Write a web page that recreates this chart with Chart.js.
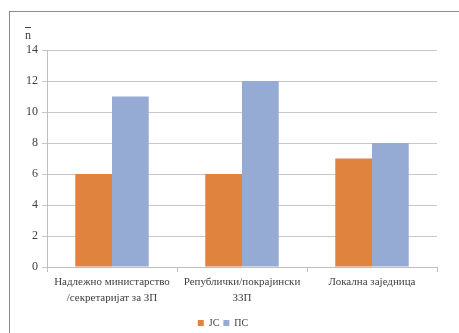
<!DOCTYPE html>
<html>
<head>
<meta charset="utf-8">
<script src="https://cdn.jsdelivr.net/npm/chart.js@4.4.0/dist/chart.umd.min.js"></script>
<style>
  html, body { margin: 0; padding: 0; background: #fff; }
  #wrap { position: relative; width: 459px; height: 333px; }
  #frame { position: absolute; left: 9px; top: 11px; width: 460px; height: 330px;
           border-left: 1px solid #8c8c8c; border-top: 1px solid #8c8c8c; pointer-events: none; }
</style>
</head>
<body>
<div id="wrap">
  <canvas id="chart" width="459" height="333"></canvas>
  <div id="frame"></div>
</div>
<script>
// Категорије и вредности
const categories = [
  ["Надлежно министарство", "/секретаријат за ЗП"],
  ["Републички/покрајински", "ЗЗП"],
  "Локална заједница"
];
const jsValues = [6, 6, 7];
const psValues = [11, 12, 8];
const yTicks = [0, 2, 4, 6, 8, 10, 12, 14];

const serif = "'Liberation Serif', 'Times New Roman', serif";

// наслов y осе (n са цртом) изнад осе
const yTitle = {
  id: "yTitle",
  afterDraw(chart) {
    const ctx = chart.ctx;
    const x = 28, y = 36;
    ctx.save();
    ctx.fillStyle = "#404040";
    ctx.font = "12px " + serif;
    ctx.textAlign = "center";
    ctx.fillText("n", x, y);
    ctx.strokeStyle = "#404040";
    ctx.lineWidth = 1;
    ctx.beginPath();
    ctx.moveTo(x - 3, 27.5);
    ctx.lineTo(x + 3, 27.5);
    ctx.stroke();
    ctx.restore();
  }
};

new Chart(document.getElementById("chart"), {
  type: "bar",
  data: {
    labels: categories,
    datasets: [
      { label: "JC", data: jsValues, backgroundColor: "#df833f" },
      { label: "ПС", data: psValues, backgroundColor: "#95abd4" }
    ]
  },
  options: {
    responsive: false,
    animation: false,
    layout: { padding: { left: 9, right: 22, top: 50, bottom: -5 } },
    datasets: { bar: { categoryPercentage: 0.565, barPercentage: 1.0 } },
    plugins: {
      tooltip: { enabled: false },
      legend: {
        position: "bottom",
        labels: {
          font: { family: serif, size: 10 },
          color: "#404040",
          boxWidth: 6,
          boxHeight: 6,
          padding: 4
        }
      }
    },
    scales: {
      x: {
        afterFit: s => { s.height = 47; },
        grid: { offset: true, drawOnChartArea: false, color: "#bfbfbf", tickLength: 5 },
        border: { color: "#bfbfbf" },
        ticks: { font: { family: serif, size: 11, lineHeight: 1.45 }, color: "#404040",
                 padding: 2, maxRotation: 0, autoSkip: false }
      },
      y: {
        min: 0,
        max: 14,
        afterFit: s => { s.width = 38; },
        afterBuildTicks: s => { s.ticks = yTicks.map(v => ({ value: v })); },
        grid: { color: "#c8c8c8", tickLength: 5 },
        border: { color: "#bfbfbf" },
        ticks: { font: { family: serif, size: 12 }, color: "#404040", padding: 4 }
      }
    }
  },
  plugins: [yTitle]
});
</script>
</body>
</html>
